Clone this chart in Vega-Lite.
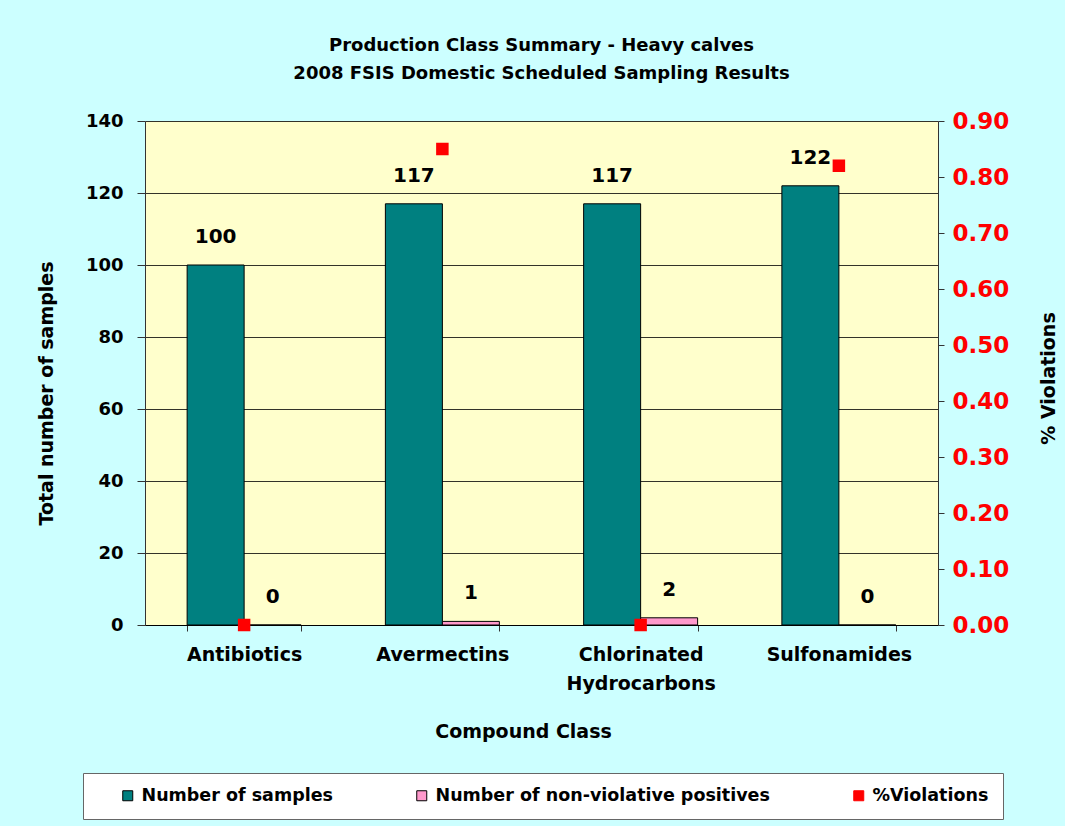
{
  "$schema": "https://vega.github.io/schema/vega-lite/v6.json",
  "width": 793,
  "height": 504,
  "autosize": "none",
  "padding": {"left": 145, "top": 121, "right": 127, "bottom": 201},
  "background": "#CCFFFF",
  "title": {
    "text": ["Production Class Summary - Heavy calves", "2008 FSIS Domestic Scheduled Sampling Results"],
    "font": "DejaVu Sans",
    "fontSize": 18,
    "fontWeight": "bold",
    "lineHeight": 28,
    "color": "black",
    "offset": 27
  },
  "config": {
    "font": "DejaVu Sans",
    "view": {"fill": "#FFFFCC", "stroke": null},
    "axis": {
      "labelFont": "DejaVu Sans",
      "titleFont": "DejaVu Sans",
      "labelFontWeight": "bold",
      "titleFontWeight": "bold",
      "labelColor": "black",
      "titleColor": "black",
      "domainColor": "#333333",
      "tickColor": "#333333"
    },
    "legend": {
      "labelFont": "DejaVu Sans"
    }
  },
  "datasets": {
    "bars": [
      {"compound": "Antibiotics", "series": "Number of samples", "value": 100},
      {"compound": "Antibiotics", "series": "Number of non-violative positives", "value": 0},
      {"compound": "Avermectins", "series": "Number of samples", "value": 117},
      {"compound": "Avermectins", "series": "Number of non-violative positives", "value": 1},
      {"compound": "Chlorinated Hydrocarbons", "series": "Number of samples", "value": 117},
      {"compound": "Chlorinated Hydrocarbons", "series": "Number of non-violative positives", "value": 2},
      {"compound": "Sulfonamides", "series": "Number of samples", "value": 122},
      {"compound": "Sulfonamides", "series": "Number of non-violative positives", "value": 0}
    ],
    "violations": [
      {"compound": "Antibiotics", "series": "%Violations", "pct": 0.0},
      {"compound": "Avermectins", "series": "%Violations", "pct": 0.85},
      {"compound": "Chlorinated Hydrocarbons", "series": "%Violations", "pct": 0.0},
      {"compound": "Sulfonamides", "series": "%Violations", "pct": 0.82}
    ]
  },
  "encoding": {
    "x": {
      "field": "compound",
      "type": "nominal",
      "sort": ["Antibiotics", "Avermectins", "Chlorinated Hydrocarbons", "Sulfonamides"],
      "scale": {"paddingInner": 0.425, "paddingOuter": 0.2125},
      "axis": {
        "title": "Compound Class",
        "titleFontSize": 19,
        "titlePadding": 29,
        "titleX": 378,
        "labelAngle": 0,
        "labelFontSize": 19,
        "labelPadding": 14,
        "labelLineHeight": 29,
        "tickBand": "extent",
        "tickSize": 6,
        "domainColor": "black",
        "labelExpr": "datum.label == 'Chlorinated Hydrocarbons' ? ['Chlorinated', 'Hydrocarbons'] : datum.label"
      }
    }
  },
  "layer": [
    {
      "data": {"name": "bars"},
      "layer": [
        {
          "mark": {"type": "bar", "strokeWidth": 1},
          "encoding": {
            "xOffset": {
              "field": "series",
              "type": "nominal",
              "sort": ["Number of samples", "Number of non-violative positives"],
              "scale": {"paddingInner": 0, "paddingOuter": 0}
            },
            "y": {
              "field": "value",
              "type": "quantitative",
              "scale": {"domain": [0, 140], "nice": false},
              "axis": {
                "title": "Total number of samples",
                "titleFontSize": 19,
                "titlePadding": 29,
                "titleY": 272,
                "labelFontSize": 18,
                "labelPadding": 14,
                "values": [0, 20, 40, 60, 80, 100, 120, 140],
                "grid": true,
                "gridColor": "black",
                "gridWidth": 1,
                "gridOpacity": 0.8,
                "tickSize": 8,
                "domainColor": "#333333"
              }
            },
            "color": {
              "field": "series",
              "type": "nominal",
              "scale": {
                "domain": ["Number of samples", "Number of non-violative positives", "%Violations"],
                "range": ["#008080", "#FF99CC", "#FF0000"]
              },
              "legend": {
                "title": null,
                "orient": "none",
                "legendX": -62,
                "legendY": 652,
                "direction": "horizontal",
                "columns": 3,
                "gridAlign": "none",
                "columnPadding": 58,
                "symbolOffset": 22,
                "symbolType": "square",
                "symbolSize": 100,
                "symbolStrokeWidth": 1,
                "labelFontSize": 17.5,
                "labelFontWeight": "bold",
                "labelColor": "black",
                "labelLimit": 500,
                "labelOffset": 5,
                "padding": 14,
                "fillColor": "white",
                "strokeColor": "#666666"
              }
            },
            "stroke": {
              "field": "series",
              "type": "nominal",
              "scale": {
                "domain": ["Number of samples", "Number of non-violative positives", "%Violations"],
                "range": ["black", "black", "#FF0000"]
              }
            }
          }
        },
        {
          "mark": {"type": "text", "dy": -28, "fontSize": 20, "fontWeight": "bold", "font": "DejaVu Sans", "color": "black"},
          "encoding": {
            "xOffset": {
              "field": "series",
              "type": "nominal",
              "sort": ["Number of samples", "Number of non-violative positives"]
            },
            "y": {"field": "value", "type": "quantitative"},
            "text": {"field": "value", "type": "quantitative"}
          }
        }
      ]
    },
    {
      "data": {"name": "violations"},
      "mark": {"type": "square", "size": 110, "opacity": 1, "filled": true},
      "encoding": {
        "y": {
          "field": "pct",
          "type": "quantitative",
          "scale": {"domain": [0, 0.9], "nice": false},
          "axis": {
            "orient": "right",
            "title": "% Violations",
            "titleFontSize": 19,
            "titleAngle": 270,
            "titlePadding": 50,
            "titleY": 257,
            "labelFontSize": 23,
            "labelColor": "#FF0000",
            "labelPadding": 8,
            "format": ".2f",
            "values": [0, 0.1, 0.2, 0.3, 0.4, 0.5, 0.6, 0.7, 0.8, 0.9],
            "grid": false,
            "tickSize": 6,
            "domainColor": "#333333"
          }
        },
        "color": {"field": "series", "type": "nominal"},
        "stroke": {"field": "series", "type": "nominal"}
      }
    }
  ],
  "resolve": {"scale": {"y": "independent"}}
}
